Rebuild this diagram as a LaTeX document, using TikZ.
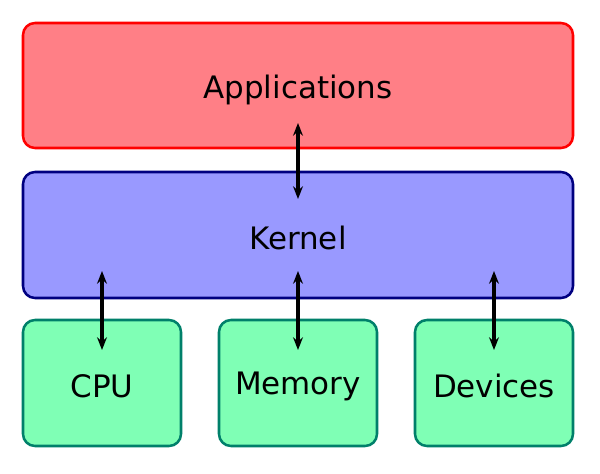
\documentclass[tikz,border=0pt]{standalone}
\usepackage{fontspec}
\setmainfont{DejaVu Sans}
\usetikzlibrary{arrows.meta}
\definecolor{appf}{HTML}{FF7F86}
\definecolor{kerf}{HTML}{9999FF}
\definecolor{kerd}{HTML}{000080}
\definecolor{hwf}{HTML}{7FFFB5}
\definecolor{hwd}{HTML}{00806A}
\begin{document}
\begin{tikzpicture}[x=0.025cm,y=-0.025cm,
 box/.style={rounded corners=0.3cm,line width=1.8pt},
 lbl/.style={font=\fontsize{22}{26}\selectfont},
 arr/.style={{Stealth[length=9pt,width=7pt]}-{Stealth[length=9pt,width=7pt]},line width=2.2pt}]
\useasboundingbox (0,0) rectangle (600,474);
\draw[box,fill=appf,draw=red] (23,23) rectangle (573,148);
\node[lbl] (app) at (298,90) {Applications};
\draw[box,fill=kerf,draw=kerd] (23,172) rectangle (573,298);
\node[lbl] (ker) at (298,238) {Kernel};
\foreach \x/\n/\t in {102/cpu/CPU,298/mem/Memory,494/dev/Devices}{
 \draw[box,fill=hwf,draw=hwd] (\x-79,320) rectangle (\x+79,446);
 \node[lbl] (\n) at (\x,386) {\t};
 \coordinate (\n t) at (\x,271);
 \coordinate (\n b) at (\x,350);
 \draw[arr] (\n t) -- (\n b);
}
\coordinate (a1) at (298,123);
\coordinate (a2) at (298,199);
\draw[arr] (a1) -- (a2);
\end{tikzpicture}
\end{document}
